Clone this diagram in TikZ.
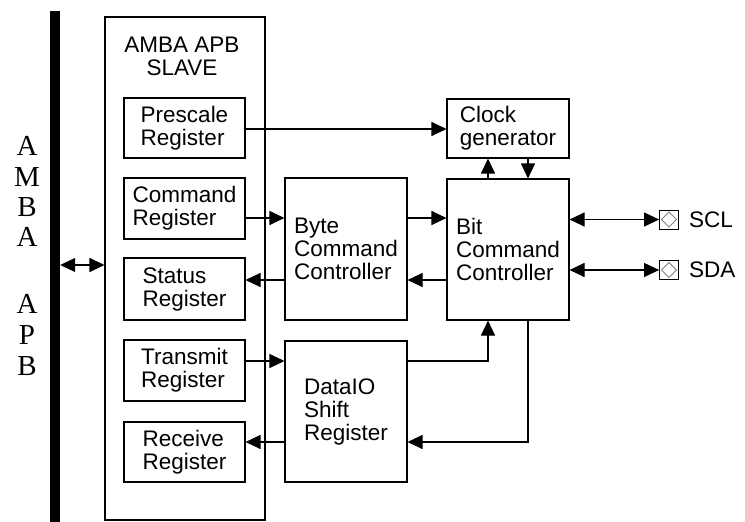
\documentclass[tikz,border=0pt]{standalone}
\usepackage{fontspec}
\setmainfont{Liberation Sans}
\newfontfamily\busfont{Liberation Serif}
\usetikzlibrary{arrows.meta,calc}
\tikzset{
  box/.style={draw, line width=1.1pt, inner sep=0pt, align=left,
    font=\fontsize{22.5}{23}\selectfont},
  tip/.style={},
  arr/.style={line width=1.1pt, -{Triangle[length=15pt,width=14pt]}},
  darr/.style={line width=1.1pt, {Triangle[length=15pt,width=14pt]}-{Triangle[length=15pt,width=14pt]}},
  lbl/.style={font=\fontsize{22.5}{23}\selectfont, inner sep=0pt},
  busletter/.style={font=\busfont\fontsize{29}{29}\selectfont, inner sep=0pt, anchor=base},
  pad/.style={draw, line width=0.8pt, minimum size=19pt, inner sep=0pt}
}
\begin{document}
\begin{tikzpicture}[x=1pt,y=-1pt]
\useasboundingbox (0,0) rectangle (745,522);
% bus bar
\node[fill=black, minimum width=10pt, minimum height=511pt, inner sep=0pt] (bar) at (55,266.5) {};
% bus letters
\foreach \l/\y [count=\i] in {A/155,M/186,B/216,A/246,A/313,P/344,B/375}
  \node[busletter] (bl\i) at (27,\y) {\l};
% slave box
\node[box, minimum width=160pt, minimum height=503pt] (slave) at (185,268.5) {};
\node[lbl, align=center] (title) at (182,56) {AMBA APB\\SLAVE};
% registers
\node[box, minimum width=121pt, minimum height=60pt] (prescale) at (184.5,128) {Prescale\\Register};
\node[box, minimum width=121pt, minimum height=61pt] (command) at (184.5,208.5) {Command\\Register};
\node[box, minimum width=121pt, minimum height=62pt] (status) at (184.5,289) {Status\\Register};
\node[box, minimum width=121pt, minimum height=61pt] (transmit) at (184.5,370.5) {Transmit\\Register};
\node[box, minimum width=121pt, minimum height=60pt] (receive) at (184.5,452) {Receive\\Register};
% controllers
\node[box, minimum width=122pt, minimum height=142pt] (byte) at (346,249) {Byte\\Command\\Controller};
\node[box, minimum width=122pt, minimum height=141pt] (dataio) at (346,411.5) {DataIO\\Shift\\Register};
\node[box, minimum width=122pt, minimum height=59pt] (clock) at (508,128.5) {Clock\\generator};
\node[box, minimum width=122pt, minimum height=141pt] (bit) at (508,249.5) {Bit\\Command\\Controller};
% pads
\node[pad] (scl) at (669,219.5) {};
\node[pad] (sda) at (669,270) {};
\foreach \p in {scl,sda}
  \draw[gray, line width=0.8pt] ($(\p.center)+(0,-7.5)$) -- ($(\p.center)+(7.5,0)$) -- ($(\p.center)+(0,7.5)$) -- ($(\p.center)+(-7.5,0)$) -- cycle;
\node[lbl, anchor=west] (scllbl) at (689,219.5) {SCL};
\node[lbl, anchor=west] (sdalbl) at (689,270) {SDA};
% connectors
\draw[darr] (bar.east |- 0,265) -- (slave.west |- 0,265);
\draw[arr] (prescale.east |- 0,129) -- (clock.west |- 0,129);
\draw[arr] (command.east |- 0,218) -- (byte.west |- 0,218);
\draw[arr] (byte.east |- 0,218) -- (bit.west |- 0,218);
\draw[arr] (bit.west |- 0,280) -- (byte.east |- 0,280);
\draw[arr] (byte.west |- 0,280) -- (status.east |- 0,280);
\draw[arr] (transmit.east |- 0,361) -- (dataio.west |- 0,361);
\draw[arr] (dataio.west |- 0,442) -- (receive.east |- 0,442);
\draw[arr] (dataio.east |- 0,361) -| (bit.south -| 488,0);
\draw[arr] (bit.south -| 528,0) |- (dataio.east |- 0,442);
\draw[arr] (bit.north -| 488,0) -- (clock.south -| 488,0);
\draw[arr] (clock.south -| 528,0) -- (bit.north -| 528,0);
\draw[darr] (bit.east |- 0,219.5) -- (scl.west);
\draw[darr] (bit.east |- 0,270) -- (sda.west);
\end{tikzpicture}
\end{document}
